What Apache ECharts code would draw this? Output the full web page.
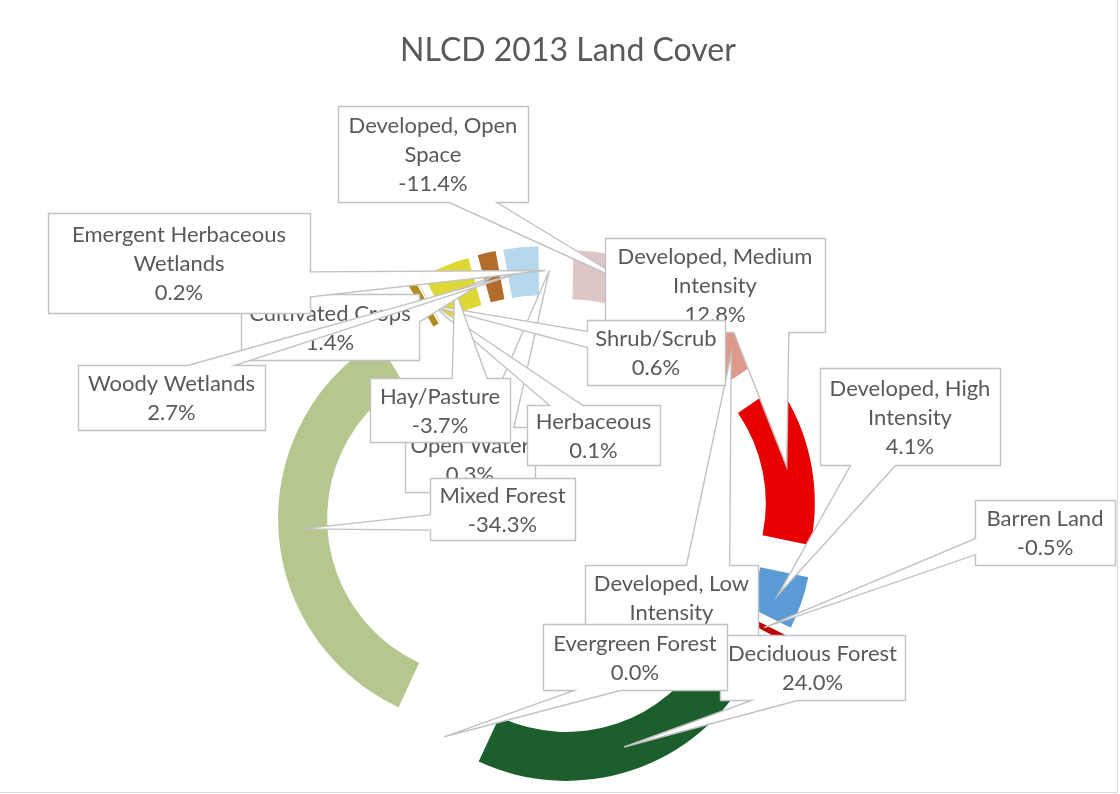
<!DOCTYPE html>
<html>
<head>
<meta charset="utf-8">
<title>NLCD 2013 Land Cover</title>
<script src="https://cdn.jsdelivr.net/npm/echarts@6/dist/echarts.min.js"></script>
<style>
  html, body { margin: 0; padding: 0; background: #ffffff; }
  #chart { width: 1120px; height: 794px; }
</style>
</head>
<body>
<div id="chart"></div>
<script>
// Land cover classes in NLCD order (line breaks mark where the callout text wraps)
const categories = [
  'Open Water',
  'Developed, Open\nSpace',
  'Developed, Low\nIntensity',
  'Developed, Medium\nIntensity',
  'Developed, High\nIntensity',
  'Barren Land',
  'Deciduous Forest',
  'Evergreen Forest',
  'Mixed Forest',
  'Shrub/Scrub',
  'Herbaceous',
  'Hay/Pasture',
  'Cultivated Crops',
  'Woody Wetlands',
  'Emergent Herbaceous\nWetlands'
];

// Percent change per class (slices are sized by magnitude)
const changePct = [0.3, -11.4, 3.7, 12.8, 4.1, -0.5, 24.0, 0.0, -34.3, 0.6, 0.1, -3.7, 1.4, 2.7, 0.2];

const sliceColors = [
  '#FFFFFF', '#DEC6C6', '#DE998A', '#E80000', '#5B9BD5', '#C00000', '#1D5F2C', '#38A04A',
  '#B5C68F', '#B48C1C', '#E2E2C1', '#DDD835', '#B06C28', '#B5D8EC', '#FFFFFF'
];

// Callout boxes: [left, top, width, height]
const labelBoxes = [
  [405, 427, 130, 65],
  [338, 106, 190, 96],
  [585, 565, 173, 94],
  [605, 238, 220, 94],
  [820, 368, 180, 97],
  [975, 500, 140, 65],
  [720, 635, 185, 65],
  [543, 624, 184, 66],
  [430, 478, 145, 62],
  [587, 320, 138, 65],
  [527, 405, 133, 60],
  [370, 378, 140, 64],
  [241, 294, 178, 66],
  [78, 365, 187, 65],
  [48, 213, 262, 100]
];

const EXPLODE = 61;
const TEXT_COLOR = '#595959';
const LINE_COLOR = '#C2C2C2';
const FONT = 'Lato, "Open Sans", sans-serif';

const chart = echarts.init(document.getElementById('chart'), null, { renderer: 'canvas' });

chart.setOption({
  backgroundColor: '#ffffff',
  animation: false,
  title: {
    text: 'NLCD 2013 Land Cover',
    left: 563,
    top: 30,
    textAlign: 'center',
    textStyle: { color: TEXT_COLOR, fontSize: 32, fontWeight: 'normal', fontFamily: FONT }
  },
  series: [{
    type: 'pie',
    center: [547, 515],
    radius: [159, 208],
    startAngle: 90,
    clockwise: true,
    selectedMode: 'multiple',
    selectedOffset: EXPLODE,
    avoidLabelOverlap: false,
    label: { show: false },
    labelLine: { show: false },
    emphasis: { disabled: true },
    select: { itemStyle: { borderWidth: 0 } },
    itemStyle: { borderWidth: 0 },
    data: categories.map((name, i) => ({
      name: name.replace('\n', ' '),
      value: Math.abs(changePct[i]),
      selected: true,
      itemStyle: { color: sliceColors[i] }
    }))
  }]
});

// Rectangle callout with a wedge pointing at (tx, ty)
function calloutPoints(l, t, w, h, tx, ty) {
  const r = l + w, b = t + h, hc = l + w / 2, vc = t + h / 2;
  const dxPos = tx - hc, dyPos = ty - vc;
  const dq = dxPos * h / w;
  const dz = Math.abs(dyPos) - Math.abs(dq);
  const x1 = l + w * (dxPos > 0 ? 7 : 2) / 12, x2 = l + w * (dxPos > 0 ? 10 : 5) / 12;
  const y1 = t + h * (dyPos > 0 ? 7 : 2) / 12, y2 = t + h * (dyPos > 0 ? 10 : 5) / 12;
  const xl = dz > 0 ? l : (dxPos > 0 ? l : tx);
  const yl = dz > 0 ? y1 : (dxPos > 0 ? y1 : ty);
  const xt = dz > 0 ? (dyPos > 0 ? x1 : tx) : x1;
  const yt = dz > 0 ? (dyPos > 0 ? t : ty) : t;
  const xr = dz > 0 ? r : (dxPos > 0 ? tx : r);
  const yr = dz > 0 ? y1 : (dxPos > 0 ? ty : y1);
  const xb = dz > 0 ? (dyPos > 0 ? tx : x1) : x1;
  const yb = dz > 0 ? (dyPos > 0 ? ty : b) : b;
  return [[l, t], [x1, t], [xt, yt], [x2, t], [r, t], [r, y1], [xr, yr], [r, y2],
          [r, b], [x2, b], [xb, yb], [x1, b], [l, b], [l, y2], [xl, yl], [l, y1]];
}

function buildCallouts() {
  const data = chart.getModel().getSeriesByIndex(0).getData();
  const elements = [];
  categories.forEach((name, i) => {
    const lay = data.getItemLayout(i);
    const mid = (lay.startAngle + lay.endAngle) / 2;
    const rr = EXPLODE + (lay.r + lay.r0) / 2;
    const tx = lay.cx + Math.cos(mid) * rr;
    const ty = lay.cy + Math.sin(mid) * rr;
    const [l, t, w, h] = labelBoxes[i];
    elements.push({
      type: 'polygon',
      z: 10 + i * 2,
      silent: true,
      shape: { points: calloutPoints(l + 0.5, t + 0.5, w, h, tx, ty) },
      style: { fill: '#ffffff', stroke: LINE_COLOR, lineWidth: 1.4 }
    });
    elements.push({
      type: 'text',
      z: 11 + i * 2,
      silent: true,
      x: l + w / 2,
      y: t + h / 2 + 1,
      style: {
        text: name + '\n' + changePct[i].toFixed(1) + '%',
        fill: TEXT_COLOR,
        font: '22px ' + FONT,
        align: 'center',
        verticalAlign: 'middle',
        textAlign: 'center',
        textVerticalAlign: 'middle',
        lineHeight: 29
      }
    });
  });
  // chart area frame
  elements.push({
    type: 'rect',
    z: 1,
    silent: true,
    shape: { x: -1, y: -1, width: 1118.5, height: 793.5 },
    style: { fill: 'none', stroke: '#D9D9D9', lineWidth: 1 }
  });
  chart.setOption({ graphic: elements });
}

buildCallouts();
</script>
</body>
</html>
